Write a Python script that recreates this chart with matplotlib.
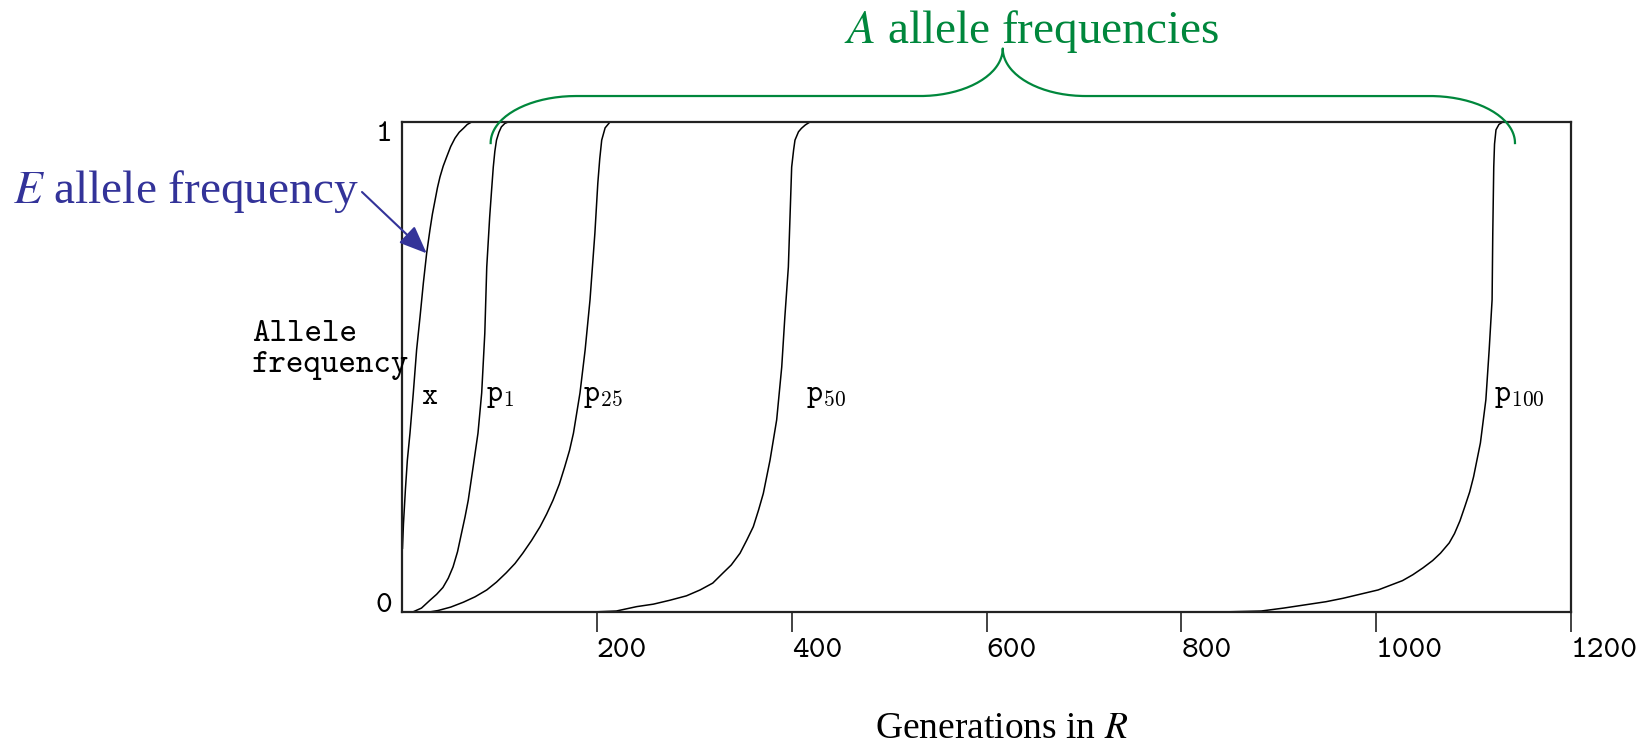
import numpy as np
import matplotlib
matplotlib.use("Agg")
import matplotlib.pyplot as plt

# ---------------- data ----------------
gen_E = [0.5, 1.5, 3.5, 5.5, 8.2, 11.6, 15.0, 18.5, 21.9, 25.3, 28.7, 31.2, 33.9, 36.4, 39.0, 42.3,
         45.9, 50.0, 54.4, 58.7, 63.0, 67.0, 71.5]
freq_E = [0.13, 0.18, 0.25, 0.31, 0.365, 0.447, 0.535, 0.602, 0.671, 0.732, 0.78, 0.812, 0.84, 0.866,
          0.888, 0.91, 0.929, 0.95, 0.967, 0.979, 0.987, 0.995, 1.0]

gen_p1 = [11, 20, 28.7, 35.5, 42, 47.5, 52.4, 57, 61, 64.7, 68, 73, 78, 81.8, 85, 87, 90, 92,
          93.7, 95.3, 97, 99.5, 102, 105.5, 109]
freq_p1 = [0.0, 0.008, 0.024, 0.036, 0.05, 0.069, 0.092, 0.123, 0.16, 0.194, 0.228, 0.296, 0.365,
           0.447, 0.569, 0.704, 0.806, 0.862, 0.908, 0.94, 0.963, 0.979, 0.99, 0.997, 1.0]

gen_p25 = [28, 37, 50, 63, 75, 87, 97, 107, 116, 124, 133, 141.7, 148.5, 155, 161.5, 167, 172, 176,
           182.7, 188, 193, 198, 201, 203, 205, 208.5, 213.5]
freq_p25 = [0.0, 0.003, 0.01, 0.02, 0.031, 0.045, 0.061, 0.08, 0.099, 0.12, 0.146, 0.174, 0.2,
            0.228, 0.261, 0.296, 0.33, 0.365, 0.447, 0.535, 0.637, 0.773, 0.875, 0.925, 0.963,
            0.988, 1.0]

gen_p50 = [194.7, 220, 241, 258, 275, 292, 306, 319, 329.7, 338, 347, 354, 360.6, 366, 370.9, 377.8,
           384.6, 389.8, 393, 396.6, 398.3, 400, 402, 403.4, 407, 410, 414, 418.8]
freq_p50 = [0.0, 0.002, 0.011, 0.016, 0.024, 0.033, 0.045, 0.059, 0.08, 0.096, 0.12, 0.147, 0.174,
            0.208, 0.242, 0.31, 0.392, 0.5, 0.602, 0.704, 0.806, 0.908, 0.943, 0.963, 0.98, 0.987,
            0.994, 1.0]

gen_p100 = [839.7, 882, 905, 948.5, 966, 1002, 1027, 1037.6, 1048, 1058, 1066, 1075, 1080.4, 1086,
            1091, 1096, 1100, 1107, 1112.6, 1116, 1119, 1119.7, 1120.7, 1121.5, 1123, 1126, 1130]
freq_p100 = [0.0, 0.002, 0.008, 0.021, 0.028, 0.045, 0.064, 0.076, 0.09, 0.105, 0.12, 0.141,
             0.16, 0.186, 0.215, 0.245, 0.276, 0.345, 0.433, 0.535, 0.637, 0.773, 0.908, 0.955,
             0.984, 0.995, 1.0]

curve_labels = ["x", "p1", "p25", "p50", "p100"]
label_gen = [19.5, 86, 186, 414.5, 1121]
label_freq = 0.442

x_ticks = [200, 400, 600, 800, 1000, 1200]
x_tick_labels = ["200", "400", "600", "800", "1000", "1200"]
y_ticks = [0, 1]
y_tick_labels = ["0", "1"]

BLUE = "#333399"
GREEN = "#00873C"
TT = "cmtt10"

# ---------------- figure ----------------
fig = plt.figure(figsize=(16.45, 7.43), dpi=100)
ax = fig.add_axes([402 / 1645, 1 - 612 / 743, 1169 / 1645, 490 / 743])

for g, f in [(gen_E, freq_E), (gen_p1, freq_p1), (gen_p25, freq_p25),
             (gen_p50, freq_p50), (gen_p100, freq_p100)]:
    ax.plot(g, f, color="black", lw=1.1, solid_joinstyle="round")

ax.set_xlim(0, 1200)
ax.set_ylim(0, 1)
for s in ax.spines.values():
    s.set_linewidth(1.6)
    s.set_color("#222222")

ax.set_xticks(x_ticks)
ax.set_xticklabels(x_tick_labels, fontfamily=TT, fontsize=23, ha="left")
ax.tick_params(axis="x", direction="out", length=14.5, width=1.2, pad=4,
               color="#222222")
ax.set_yticks(y_ticks)
ax.set_yticklabels(y_tick_labels, fontfamily=TT, fontsize=23)
ax.tick_params(axis="y", length=0, pad=7)
ylabs = ax.get_yticklabels()
ylabs[0].set_va("baseline")
ylabs[1].set_va("top")

# curve labels
for lab, gx in zip(curve_labels, label_gen):
    if lab == "x":
        txt = r"$\mathtt{x}$"
    else:
        txt = r"$\mathtt{p}_{\mathtt{%s}}$" % lab[1:]
    ax.text(gx, label_freq, txt, fontsize=22, math_fontfamily="cm",
            ha="left", va="center")

# axis label "Allele frequency"
ax.text(-0.1283, 0.535, "Allele\nfrequency", transform=ax.transAxes,
        fontfamily=TT, fontsize=24, ha="left", va="center", linespacing=1.1)

# x axis title
fig.text(1002 / 1645, 1 - 738 / 743, r"Generations in $R$",
         fontfamily="Liberation Serif", math_fontfamily="stix",
         fontsize=27, ha="center", va="baseline")

# E allele annotation with arrow
fig.text(13 / 1645, 1 - 203 / 743, r"$E$ allele frequency",
         fontfamily="Liberation Serif", math_fontfamily="stix",
         fontsize=34, color=BLUE, ha="left", va="baseline")
ax.annotate("", xy=(gen_E[9], freq_E[9]),
            xytext=(362 / 1645, 1 - 192 / 743), textcoords="figure fraction",
            arrowprops=dict(arrowstyle="-|>,head_length=1.7,head_width=0.7",
                            color=BLUE, lw=1.5, shrinkA=0, shrinkB=0),
            annotation_clip=False)

# A allele annotation with curly brace
fig.text(1032 / 1645, 1 - 43 / 743, r"$A$ allele frequencies",
         fontfamily="Liberation Serif", math_fontfamily="stix",
         fontsize=34, color=GREEN, ha="center", va="baseline")

x_left, x_right, x_tip = 91.0, 1142.5, 616.7
y_end, y_bar, y_tip = 0.957, 1.053, 1.150
r_o, r_i = 87.6, 85.0
t = np.linspace(0, np.pi / 2, 40)
tr = t[::-1]
bx = np.concatenate([
    x_left + r_o * (1 - np.cos(t)),
    x_tip - r_i + r_i * np.sin(t),
    x_tip + r_i - r_i * np.sin(tr),
    x_right - r_o * (1 - np.cos(tr)),
])
by = np.concatenate([
    y_end + (y_bar - y_end) * np.sin(t),
    y_bar + (y_tip - y_bar) * (1 - np.cos(t)),
    y_bar + (y_tip - y_bar) * (1 - np.cos(tr)),
    y_end + (y_bar - y_end) * np.sin(tr),
])
ax.plot(bx, by, color=GREEN, lw=1.6, clip_on=False, zorder=5)

fig.savefig("out.png", dpi=100)
